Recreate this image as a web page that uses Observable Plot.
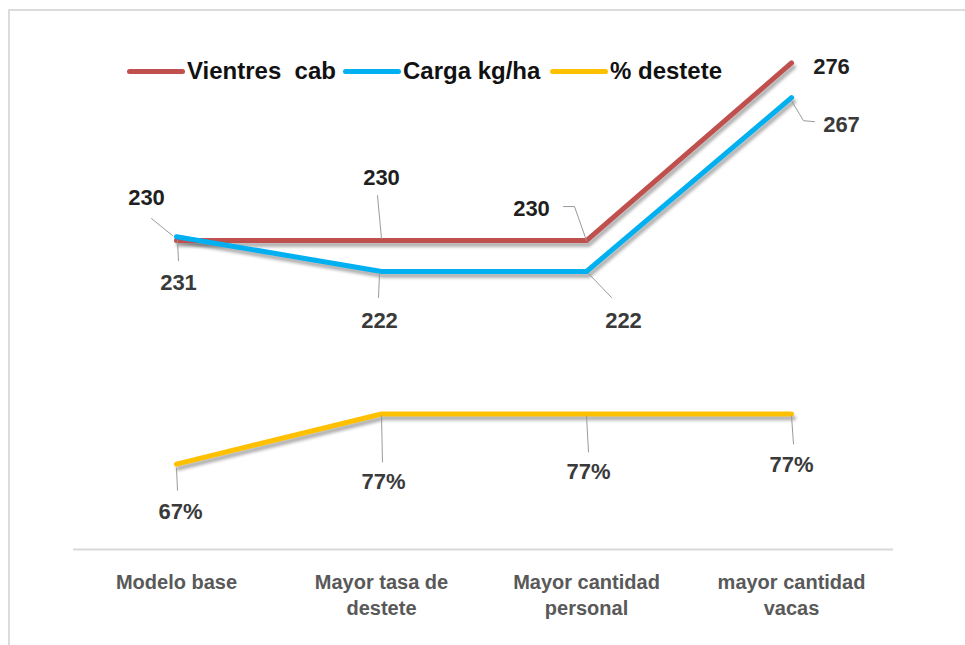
<!DOCTYPE html>
<html><head><meta charset="utf-8">
<script src="https://cdn.jsdelivr.net/npm/d3@7"></script>
<script src="https://cdn.jsdelivr.net/npm/@observablehq/plot@0.6"></script>
<style>
body{margin:0;background:#fff;}
#wrap{position:relative;width:965px;height:645px;overflow:hidden;background:#fff;}
#frame{position:absolute;left:8px;top:9px;width:980px;height:660px;border-top:2px solid #dcdcdc;border-left:2px solid #dcdcdc;}
#chart{position:absolute;left:0;top:0;}
.item{position:absolute;top:56px;height:30px;display:flex;align-items:center;font:bold 24px "Liberation Sans",Arial,sans-serif;color:#111;white-space:pre;}
.sw{display:inline-block;width:58px;height:5px;border-radius:3px;margin-right:2px;}
</style></head><body>
<div id="wrap"><div id="frame"></div><div id="chart"></div></div>
<script>
// ---- data ----
const categories = ["Modelo base", "Mayor tasa de\ndestete", "Mayor cantidad\npersonal", "mayor cantidad\nvacas"];
const seriesNames = ["Vientres  cab", "Carga kg/ha", "% destete"];
const vientres = [230, 230, 230, 276];
const carga = [231, 222, 222, 267];
const destete = [67, 77, 77, 77]; // %
const primaryDomain = [150, 280];
const secondaryDomain = [50, 150]; // % axis (secondary)

// ---- styles / layout ----
const colors = ["#c0504d", "#00b0f0", "#ffc000"];
const shadowColor = "#010101";
const labelColors = ["#1f1f1f", "#3a3a3a", "#3a3a3a"];
const legendLeft = [127, 343, 550];
const labelOffsets = [
  [[-30, -43], [0, -63], [-55, -32], [40, 4]],
  [[2, 46], [-2, 49], [37, 49], [50, 27]],
  [[4, 48], [2, 68], [2, 58], [0, 51]]
];
const leaders = [
  [[[-4, -5], [-25, -22]], [[0, -2], [-4, -45]], [[0, 0], [-12, -34], [-23, -34]], null],
  [[[1, 4], [2, 24]], [[-2, 2], [-3, 26]], [[2, 2], [25, 26]], [[0, 3], [12, 23], [23, 24]]],
  [[[0, 4], [1, 26]], [[0, 2], [1, 48]], [[0, 2], [2, 38]], [[0, 2], [2, 30]]]
];

const toPrimary = d3.scaleLinear().domain(secondaryDomain).range(primaryDomain);
const fmt = [d => String(d), d => String(d), d => d + "%"];
const series = [vientres, carga, destete].map((vals, s) =>
  vals.map((v, i) => ({cat: categories[i], v, y: s === 2 ? toPrimary(v) : v, label: fmt[s](v)})));

const marks = [];
marks.push(Plot.ruleY([primaryDomain[0]], {stroke: "#d9d9d9", strokeWidth: 2}));
// shadows
series.forEach((d) => {
  marks.push(Plot.line(d, {x: "cat", y: "y", stroke: shadowColor, strokeOpacity: 0.3, strokeWidth: 5, dx: 2, dy: 4}));
});
// lines
series.forEach((d, s) => {
  marks.push(Plot.line(d, {x: "cat", y: "y", stroke: colors[s], strokeWidth: 5, strokeLinejoin: "round", strokeLinecap: "round"}));
});
// leaders and labels
series.forEach((d, s) => {
  d.forEach((p, i) => {
    const pts = leaders[s][i];
    if (pts) {
      marks.push(Plot.vector([p], {
        x: "cat", y: "y", anchor: "start", length: 10, stroke: "#9a9a9a", strokeWidth: 1,
        shape: {draw(ctx) { ctx.moveTo(pts[0][0], pts[0][1]); for (let k = 1; k < pts.length; k++) ctx.lineTo(pts[k][0], pts[k][1]); }}
      }));
    }
    const [dx, dy] = labelOffsets[s][i];
    marks.push(Plot.text([p], {x: "cat", y: "y", text: "label", dx, dy, fill: labelColors[s], fontSize: 22, fontWeight: "bold"}));
  });
});
marks.push(Plot.axisX({tickSize: 0, tickPadding: 21, fontSize: 20, fill: "#595959", lineHeight: 1.3, fontWeight: "bold"}));

const chart = Plot.plot({
  width: 965, height: 645,
  marginLeft: 73, marginRight: 72, marginTop: 47, marginBottom: 96,
  style: {fontFamily: "'Liberation Sans', Arial, sans-serif", background: "transparent", overflow: "visible"},
  x: {type: "point", domain: categories, padding: 0.5, label: null},
  y: {domain: primaryDomain, axis: null},
  marks
});
// soft shadow filter in user space (works for horizontal segments too)
const ns = "http://www.w3.org/2000/svg";
const defs = document.createElementNS(ns, "defs");
const filt = document.createElementNS(ns, "filter");
filt.setAttribute("id", "soft");
filt.setAttribute("filterUnits", "userSpaceOnUse");
filt.setAttribute("x", "0"); filt.setAttribute("y", "0");
filt.setAttribute("width", "965"); filt.setAttribute("height", "645");
const blur = document.createElementNS(ns, "feGaussianBlur");
blur.setAttribute("stdDeviation", "1.6");
filt.appendChild(blur); defs.appendChild(filt);
chart.insertBefore(defs, chart.firstChild);
chart.querySelectorAll("g, path").forEach(el => {
  if (el.getAttribute("stroke") === shadowColor) el.setAttribute("filter", "url(#soft)");
});
document.getElementById("chart").appendChild(chart);

// legend
const wrap = document.getElementById("wrap");
seriesNames.forEach((name, s) => {
  const it = document.createElement("div");
  it.className = "item";
  it.style.left = legendLeft[s] + "px";
  const sw = document.createElement("span");
  sw.className = "sw"; sw.style.background = colors[s];
  it.appendChild(sw);
  it.appendChild(document.createTextNode(name));
  wrap.appendChild(it);
});
</script>
</body></html>
